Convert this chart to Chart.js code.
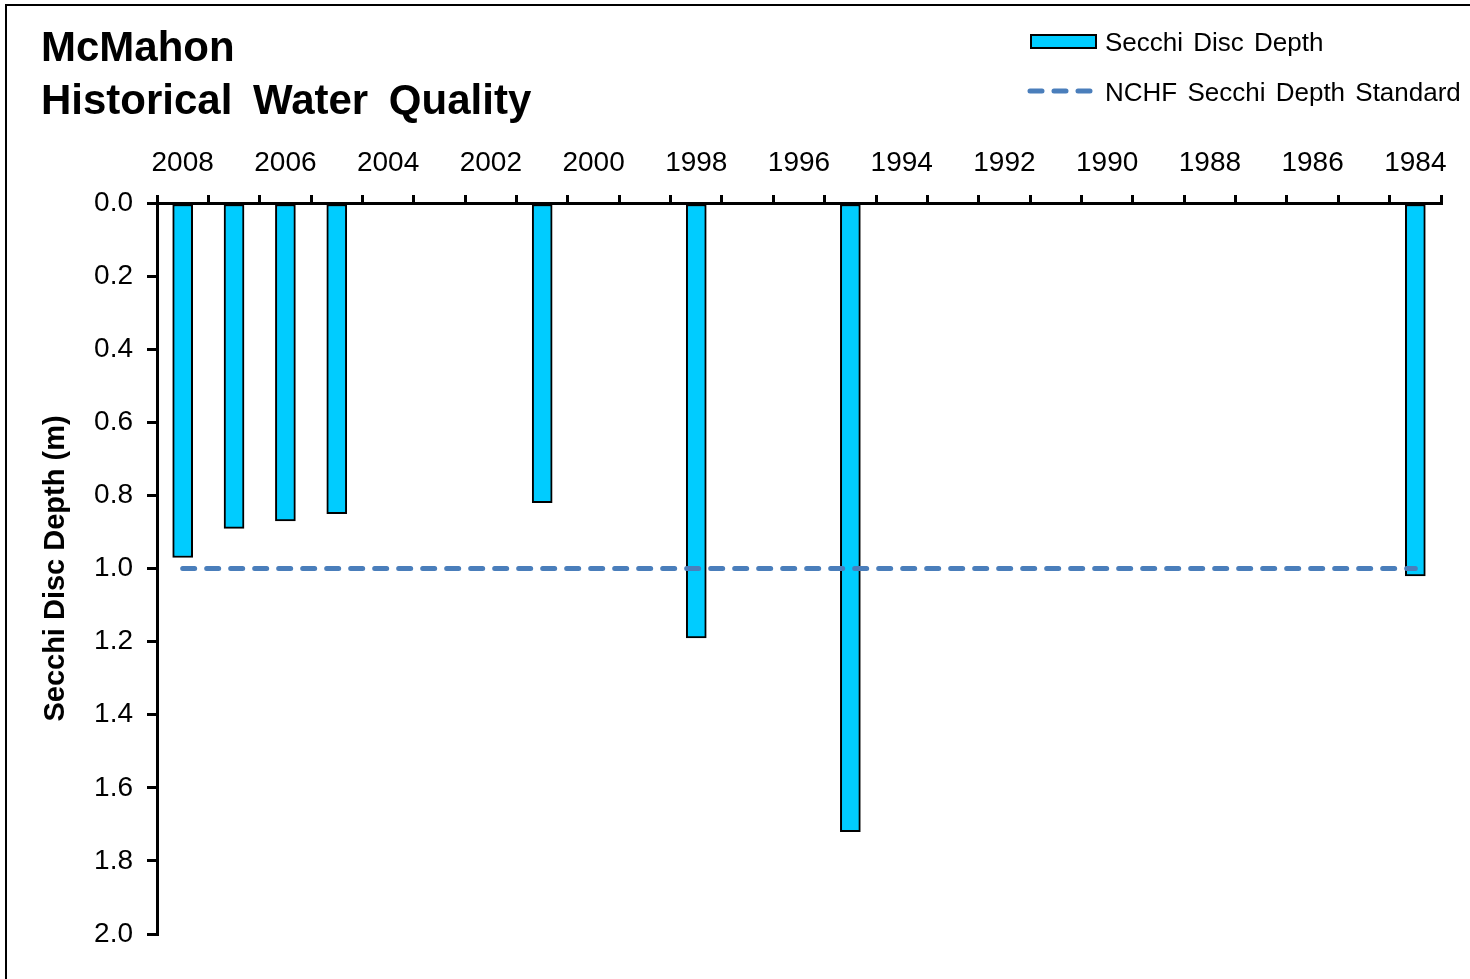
<!DOCTYPE html>
<html>
<head>
<meta charset="utf-8">
<script src="https://cdn.jsdelivr.net/npm/chart.js@4"></script>
<style>
  html, body { margin: 0; padding: 0; background: #fff; overflow: hidden; }
  #wrap { position: relative; width: 1470px; height: 979px; font-family: "Liberation Sans", Arial, sans-serif; }
  #frame { position: absolute; left: 5px; top: 4px; width: 1520px; height: 1020px; border-left: 2px solid #000; border-top: 2px solid #000; }
  #title { position: absolute; left: 41px; top: 20px; font-weight: bold; font-size: 42px; line-height: 53px; word-spacing: 9px; color: #000; }
  .leg { position: absolute; left: 1105px; font-size: 26px; word-spacing: 3px; color: #000; line-height: 30px; }
  #swBar { position: absolute; left: 1030px; top: 34px; width: 63px; height: 11px; background: #00CCFF; border: 2px solid #000; }
  #swLine { position: absolute; left: 1026px; top: 82px; }
</style>
</head>
<body>
<div id="wrap">
  <canvas id="chart" width="1470" height="979"></canvas>
  <div id="frame"></div>
  <div id="title">McMahon<br>Historical Water Quality</div>
  <div id="swBar"></div>
  <div class="leg" style="top:27px">Secchi Disc Depth</div>
  <canvas id="swLine" width="72" height="18"></canvas>
  <div class="leg" style="top:77px">NCHF Secchi Depth Standard</div>
</div>
<script>
// sample years and Secchi depths (m)
const years = [2008, 2007, 2006, 2005, 2001, 1998, 1995, 1984];
const depths = [0.97, 0.89, 0.87, 0.85, 0.82, 1.19, 1.72, 1.02];

// NCHF standard line
const standardYears = [2008, 1984];
const standardDepth = [1.0, 1.0];

// axis labels
const yearLabels = [2008, 2006, 2004, 2002, 2000, 1998, 1996, 1994, 1992, 1990, 1988, 1986, 1984];
const depthTicks = [0.0, 0.2, 0.4, 0.6, 0.8, 1.0, 1.2, 1.4, 1.6, 1.8, 2.0];

const barColor = "#00CCFF";
const lineColor = "#4A7EBB";

// legend dash swatch
const sw = document.getElementById("swLine").getContext("2d");
sw.strokeStyle = lineColor;
sw.lineWidth = 5;
sw.lineCap = "round";
sw.setLineDash([12, 12]);
sw.beginPath();
sw.moveTo(4, 9);
sw.lineTo(68, 9);
sw.stroke();

// x tick marks sit between years, labels on the even years
const xTicks = [];
for (let v = 1983.5; v <= 2008.5; v += 0.5) xTicks.push(v);

const ctx = document.getElementById("chart").getContext("2d");
new Chart(ctx, {
  type: "bar",
  data: {
    datasets: [{
      type: "line",
      label: "NCHF Secchi Depth Standard",
      data: standardYears.map((y, i) => ({ x: y, y: standardDepth[i] })),
      borderColor: lineColor,
      borderWidth: 5,
      borderDash: [12, 12],
      borderCapStyle: "round",
      pointRadius: 0,
      fill: false,
      order: 0
    }, {
      label: "Secchi Disc Depth",
      data: years.map((y, i) => ({ x: y, y: depths[i] })),
      backgroundColor: barColor,
      borderColor: "#000",
      borderWidth: 2,
      borderSkipped: false,
      barThickness: 20,
      order: 1
    }]
  },
  options: {
    responsive: false,
    animation: false,
    layout: { padding: { left: 30, top: 0, right: 29, bottom: 45 } },
    plugins: { legend: { display: false }, tooltip: { enabled: false } },
    scales: {
      x: {
        type: "linear",
        position: "top",
        reverse: true,
        offset: false,
        min: 1983.5,
        max: 2008.5,
        afterBuildTicks: s => { s.ticks = xTicks.map(v => ({ value: v })); },
        afterFit: s => { s.height = 203; },
        ticks: {
          autoSkip: false,
          maxRotation: 0,
          minRotation: 0,
          padding: 15,
          color: "#000",
          font: { family: "Liberation Sans", size: 28 },
          callback: v => yearLabels.includes(v) ? String(v) : ""
        },
        grid: {
          offset: false,
          drawOnChartArea: false,
          tickLength: 8,
          lineWidth: 3,
          tickColor: c => (c.tick && c.tick.value % 1 !== 0) ? "#000" : "rgba(0,0,0,0)"
        },
        border: { color: "#000", width: 3 }
      },
      y: {
        min: 0,
        max: 2,
        reverse: true,
        afterBuildTicks: s => { s.ticks = depthTicks.map(v => ({ value: v })); },
        afterFit: s => { s.width = 127; },
        ticks: {
          padding: 14,
          color: "#000",
          font: { family: "Liberation Sans", size: 28 },
          callback: v => v.toFixed(1)
        },
        grid: { drawOnChartArea: false, tickLength: 10, lineWidth: 3, tickColor: "#000" },
        border: { color: "#000", width: 3 },
        title: {
          display: true,
          text: "Secchi Disc Depth (m)",
          color: "#000",
          font: { family: "Liberation Sans", size: 29, weight: "bold" },
          padding: { top: 9, bottom: 0 }
        }
      }
    }
  }
});
</script>
</body>
</html>
